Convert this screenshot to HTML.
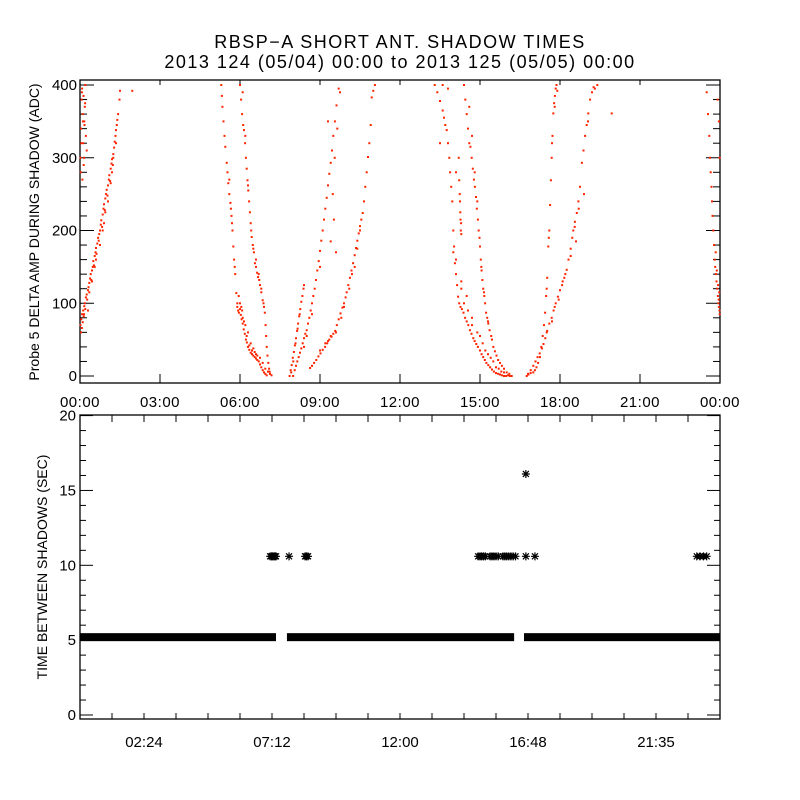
<!DOCTYPE html>
<html><head><meta charset="utf-8">
<style>
html,body{margin:0;padding:0;background:#fff;}
svg{display:block;font-family:"Liberation Sans",sans-serif;}
</style></head>
<body>
<svg id="chart" width="800" height="800" viewBox="0 0 800 800">
  <text x="400" y="48" text-anchor="middle" font-size="18" letter-spacing="1.5">RBSP−A SHORT ANT. SHADOW TIMES</text>
  <text x="400" y="68" text-anchor="middle" font-size="18" letter-spacing="1.5">2013 124 (05/04) 00:00 to 2013 125 (05/05) 00:00</text>
  <g id="topPanel"></g>
  <g id="botPanel"></g>
</svg>
<script>
// ---- Top panel data: [hour of day, ADC] pairs per shadow track ----
const tickHoursTop = [0,3,6,9,12,15,18,21,24];
const tickLabelsTop = ["00:00","03:00","06:00","09:00","12:00","15:00","18:00","21:00","00:00"];
const yTicksTop = [0,100,200,300,400];
const trackRiseEarly = [[0.02,70],[0.04,60],[0.05,78],[0.07,66],[0.08,85],[0.1,74],[0.12,90],[0.14,82],[0.16,96],[0.18,100],[0.2,92],[0.22,108],[0.25,112],[0.27,105],[0.3,118],[0.32,122],[0.35,128],[0.38,134],[0.4,140],[0.42,132],[0.45,145],[0.48,150],[0.5,158],[0.52,152],[0.55,165],[0.58,170],[0.6,176],[0.62,168],[0.65,182],[0.68,190],[0.7,186],[0.72,195],[0.75,200],[0.78,208],[0.8,214],[0.83,205],[0.85,222],[0.88,230],[0.9,236],[0.93,228],[0.95,244],[0.98,250],[1.0,256],[1.03,248],[1.05,262],[1.08,270],[1.1,276],[1.13,268],[1.15,285],[1.18,292],[1.2,298],[1.23,290],[1.25,305],[1.28,314],[1.3,322],[1.33,330],[1.35,338],[1.38,345],[1.4,352],[1.43,360],[1.48,380],[1.5,392],[1.96,392],[0.3,90],[0.6,160],[0.9,210],[1.2,280],[0.45,130],[0.75,180],[1.05,240],[1.25,300],[0.15,85],[0.35,115],[0.55,150],[0.85,200],[0.95,225],[1.15,265],[1.35,320]];
const trackEdgeLeft = [[0.02,300],[0.04,340],[0.06,380],[0.08,395],[0.1,360],[0.12,320],[0.14,290],[0.16,350],[0.18,370],[0.2,400],[0.22,330],[0.25,310],[0.03,280],[0.07,390],[0.11,350],[0.15,300],[0.19,375],[0.05,320],[0.09,270],[0.13,385],[0.17,345]];
const trackFallA = [[5.3,400],[5.32,385],[5.34,370],[5.38,350],[5.42,330],[5.45,315],[5.5,293],[5.53,280],[5.56,265],[5.6,250],[5.64,238],[5.68,220],[5.72,200],[5.75,178],[5.78,160],[5.82,140],[5.86,114],[5.9,100],[5.93,90],[5.96,87],[6.0,92],[6.03,84],[6.06,78],[6.1,72],[6.14,64],[6.18,58],[6.22,50],[6.26,46],[6.3,40],[6.35,36],[6.4,32],[6.45,30],[6.5,28],[6.55,26],[6.6,24],[6.65,22],[6.7,20],[6.75,16],[6.8,12],[6.85,8],[6.9,5],[6.95,3],[7.0,1],[5.95,110],[6.05,95],[6.1,80],[6.2,70],[6.3,60],[6.4,45],[6.5,38],[6.6,30],[5.9,95],[6.0,100],[6.08,90],[6.15,75],[6.25,55],[6.35,42],[6.45,35],[6.55,33],[6.65,28],[6.75,25],[6.85,18],[6.95,10],[7.05,6],[7.12,3],[7.18,1],[5.6,270],[5.66,230],[5.7,210],[5.8,150]];
const trackFallB = [[6.0,400],[6.04,380],[6.08,360],[6.12,345],[6.15,338],[6.19,320],[6.22,300],[6.25,285],[6.28,269],[6.31,255],[6.34,240],[6.37,225],[6.4,210],[6.44,191],[6.48,180],[6.52,170],[6.56,155],[6.6,150],[6.64,142],[6.68,136],[6.72,132],[6.75,125],[6.8,115],[6.85,104],[6.9,95],[6.93,87],[6.96,70],[6.98,55],[7.0,40],[7.03,28],[7.06,18],[7.09,10],[7.11,6],[7.13,3],[6.1,390],[6.2,330],[6.3,262],[6.42,200],[6.5,175],[6.6,160],[6.7,140],[6.8,120],[6.88,100]];
const trackRiseA = [[7.86,0],[7.9,8],[7.94,15],[7.98,25],[8.02,33],[8.06,42],[8.1,52],[8.14,62],[8.18,72],[8.22,82],[8.26,92],[8.3,102],[8.34,110],[8.38,120],[8.4,125],[7.92,5],[8.0,20],[8.08,45],[8.16,65],[8.24,85]];
const trackRiseB = [[7.99,0],[8.05,8],[8.1,14],[8.15,20],[8.2,26],[8.25,32],[8.3,38],[8.35,45],[8.4,52],[8.45,58],[8.5,63],[8.55,72],[8.6,80],[8.65,90],[8.7,100],[8.75,110],[8.8,120],[8.85,132],[8.9,145],[8.95,158],[9.0,172],[9.05,186],[9.1,200],[9.15,215],[9.2,230],[9.25,245],[9.3,262],[9.35,278],[9.4,293],[9.45,310],[9.5,330],[9.56,350],[9.62,372],[9.7,395],[9.48,250],[9.52,215],[9.4,185],[9.6,170],[9.55,300],[9.65,340],[9.3,350],[9.75,390],[8.4,40],[8.5,55],[8.7,85],[9.0,150]];
const trackRiseC = [[8.63,11],[8.7,14],[8.78,18],[8.86,22],[8.94,27],[9.02,31],[9.1,36],[9.19,40],[9.27,45],[9.35,50],[9.43,54],[9.5,58],[9.57,62],[9.63,70],[9.7,78],[9.77,86],[9.84,94],[9.9,100],[9.96,108],[10.0,115],[10.06,125],[10.12,135],[10.18,145],[10.24,155],[10.3,166],[10.35,176],[10.4,186],[10.45,196],[10.5,206],[10.55,215],[10.6,224],[10.65,240],[10.7,260],[10.75,280],[10.8,301],[10.85,320],[10.9,345],[10.94,383],[11.0,392],[11.06,400],[9.2,45],[9.4,55],[9.8,80],[10.1,120],[10.3,150],[10.5,200],[9.0,35],[9.3,48],[9.6,60],[9.9,95],[10.2,140],[10.4,175]];
const trackFallC = [[13.3,400],[13.4,390],[13.5,378],[13.6,365],[13.65,355],[13.7,345],[13.75,338],[13.8,320],[13.85,300],[13.88,280],[13.92,260],[13.96,240],[14.0,200],[14.03,178],[14.06,155],[14.1,140],[14.14,125],[14.18,109],[14.22,100],[14.27,95],[14.32,92],[14.38,87],[14.44,80],[14.5,75],[14.56,70],[14.62,63],[14.68,58],[14.75,52],[14.8,48],[14.86,44],[14.92,40],[15.0,35],[15.06,30],[15.12,26],[15.18,22],[15.24,18],[15.31,15],[15.38,12],[15.45,9],[15.52,6],[15.6,4],[15.68,3],[15.75,2],[15.82,1],[15.9,0],[15.98,0],[16.05,1],[16.12,0],[16.19,0],[14.3,130],[14.4,100],[14.55,90],[14.7,70],[14.9,60],[15.1,45],[15.3,30],[15.5,20],[15.7,10],[15.9,5],[14.0,170],[14.1,160],[14.3,120],[14.5,110],[14.7,80],[15.0,55],[15.2,35],[15.4,25],[15.6,12],[15.8,6]];
const trackFallD = [[14.4,400],[14.45,380],[14.5,360],[14.55,340],[14.6,320],[14.64,315],[14.69,300],[14.73,285],[14.77,270],[14.81,260],[14.85,246],[14.88,230],[14.92,215],[14.95,200],[14.98,190],[15.0,178],[15.03,160],[15.06,145],[15.09,132],[15.12,120],[15.16,110],[15.19,100],[15.23,87],[15.27,80],[15.31,72],[15.36,63],[15.42,55],[15.5,40],[15.56,34],[15.62,28],[15.68,22],[15.75,18],[15.82,14],[15.9,10],[16.0,5],[16.1,3],[14.6,370],[14.7,330],[14.8,280],[14.9,240],[15.05,150],[15.15,115],[15.3,75],[15.45,50]];
const trackFallE = [[14.22,269],[14.24,250],[14.25,240],[14.26,225],[14.27,215],[14.28,200],[14.29,210],[14.3,195],[13.5,320],[13.6,400],[13.8,395],[14.2,300],[14.1,280]];
const trackRiseD = [[16.75,0],[16.82,2],[16.9,4],[17.0,5],[17.06,8],[17.12,12],[17.18,18],[17.25,26],[17.3,40],[17.35,55],[17.4,70],[17.44,87],[17.48,110],[17.52,135],[17.56,178],[17.6,200],[17.63,235],[17.66,269],[17.69,300],[17.72,330],[17.75,361],[17.78,375],[17.81,385],[17.84,395],[17.87,400],[17.9,392],[17.5,120],[17.58,190],[17.7,320],[17.8,370]];
const trackRiseE = [[16.8,3],[16.9,8],[17.0,14],[17.08,20],[17.16,26],[17.24,31],[17.32,38],[17.38,44],[17.45,52],[17.52,62],[17.6,72],[17.69,80],[17.76,90],[17.84,100],[17.92,109],[18.0,118],[18.08,125],[18.16,135],[18.25,146],[18.32,160],[18.4,175],[18.46,190],[18.5,200],[18.56,212],[18.63,224],[18.69,240],[18.75,260],[18.82,293],[18.88,310],[18.94,330],[19.0,345],[19.06,361],[19.13,380],[19.2,390],[19.26,397],[19.31,395],[19.4,400],[17.5,60],[17.8,95],[18.1,130],[18.4,165],[18.6,185],[18.9,250],[19.94,361],[17.7,75],[17.95,105],[18.2,140],[18.55,205],[18.7,230],[19.05,350]];
const trackEdgeRight = [[23.5,390],[23.55,360],[23.6,330],[23.62,300],[23.65,280],[23.68,260],[23.7,240],[23.72,220],[23.75,200],[23.78,180],[23.8,160],[23.82,150],[23.85,140],[23.87,130],[23.9,120],[23.92,110],[23.94,100],[23.96,95],[23.98,90],[23.99,85],[23.95,105],[23.97,115],[23.93,125],[23.88,145],[23.84,170],[23.99,300],[23.96,350],[23.91,380]];

// ---- Bottom panel data (hour of day, seconds) ----
const tickHoursBot = [2.4,7.2,12.0,16.8,21.6];
const tickLabelsBot = ["02:24","07:12","12:00","16:48","21:35"];
const yTicksBot = [0,5,10,15,20];
const bandStartHours = [0.0, 7.76, 16.65];
const bandEndHours = [7.35, 16.28, 24.0];
const bandValue = 5.2;
const gapHours = [7.13,7.18,7.22,7.27,7.31,7.35,7.84,8.44,8.49,8.55,14.93,15.0,15.06,15.13,15.2,15.38,15.45,15.52,15.6,15.68,15.86,15.93,16.0,16.08,16.16,16.24,16.33,16.72,17.06,23.13,23.25,23.38,23.5,16.72];
const gapValues = [10.6,10.6,10.6,10.6,10.6,10.6,10.6,10.6,10.6,10.6,10.6,10.6,10.6,10.6,10.6,10.6,10.6,10.6,10.6,10.6,10.6,10.6,10.6,10.6,10.6,10.6,10.6,10.6,10.6,10.6,10.6,10.6,10.6,16.1];

const NS='http://www.w3.org/2000/svg';
function mk(tag, attrs, parent){const e=document.createElementNS(NS,tag);for(const k in attrs)e.setAttribute(k,attrs[k]);parent.appendChild(e);return e;}

const X0=80, X1=720;
function xH(h){return X0+(X1-X0)*h/24;}
const T0=80, T1=383;
function yA(v){return 376-v*0.7275;}
const B0=415, B1=719;
function yS(v){return 715-v*14.97;}

const topG=document.getElementById('topPanel');
const botG=document.getElementById('botPanel');

// ---- top panel ----
const tf=mk('rect',{x:X0,y:T0,width:X1-X0,height:T1-T0,fill:'none',stroke:'#000','stroke-width':1.3},topG);


for(let i=0;i<tickHoursTop.length;i++){
  const x=xH(tickHoursTop[i]);
  const t1=mk('line',{x1:x,y1:T1,x2:x,y2:T1-9,stroke:'#000'},topG);
  
  
  const t2=mk('line',{x1:x,y1:T0,x2:x,y2:T0+5,stroke:'#000'},topG);
  
  
  const lb=mk('text',{x:x,y:T1+24,'text-anchor':'middle','font-size':15,'letter-spacing':0.5},topG);
  lb.textContent=tickLabelsTop[i];
  
  
}
for(let v=0;v<=400;v+=20){
  const y=yA(v); const major=(v%100===0);
  const l1=mk('line',{x1:X0,y1:y,x2:X0+(major?14:7),y2:y,stroke:'#000'},topG);
  
  
  const l2=mk('line',{x1:X1,y1:y,x2:X1-(major?14:7),y2:y,stroke:'#000'},topG);
  
  
}
yTicksTop.forEach(v=>{
  const lb=mk('text',{x:X0-3,y:yA(v)+5,'text-anchor':'end','font-size':15},topG);
  lb.textContent=String(v);
  
  
});
const yt=mk('text',{x:0,y:0,'text-anchor':'middle','font-size':14,transform:'translate(39,232) rotate(-90)'},topG);
yt.textContent='Probe 5 DELTA AMP DURING SHADOW (ADC)';


const tracks=[trackRiseEarly,trackEdgeLeft,trackFallA,trackFallB,trackRiseA,trackRiseB,trackRiseC,trackFallC,trackFallD,trackFallE,trackRiseD,trackRiseE,trackEdgeRight];
tracks.forEach(tr=>tr.forEach(pt=>{
  const p=mk('rect',{x:(xH(pt[0])-1).toFixed(1),y:(yA(pt[1])-1).toFixed(1),width:2,height:2,fill:'#ff2400'},topG);
  
  
}));

// ---- bottom panel ----
const bf=mk('rect',{x:X0,y:B0,width:X1-X0,height:B1-B0,fill:'none',stroke:'#000','stroke-width':1.3},botG);


for(let k=1;k<20;k++){
  const x=xH(k*1.2);
  const a=mk('line',{x1:x,y1:B1,x2:x,y2:B1-6,stroke:'#000'},botG);
  
  
  const b=mk('line',{x1:x,y1:B0,x2:x,y2:B0+7,stroke:'#000'},botG);
  
  
}
for(let i=0;i<tickHoursBot.length;i++){
  const lb=mk('text',{x:xH(tickHoursBot[i]),y:B1+28,'text-anchor':'middle','font-size':15},botG);
  lb.textContent=tickLabelsBot[i];
  
  
}
for(let v=0;v<=20;v++){
  const y=yS(v); const major=(v%5===0);
  const a=mk('line',{x1:X0,y1:y,x2:X0+(major?13:6),y2:y,stroke:'#000'},botG);
  
  
  const b=mk('line',{x1:X1,y1:y,x2:X1-(major?13:6),y2:y,stroke:'#000'},botG);
  
  
}
yTicksBot.forEach(v=>{
  const lb=mk('text',{x:X0-4,y:yS(v)+5,'text-anchor':'end','font-size':15},botG);
  lb.textContent=String(v);
  
  
});
const yt2=mk('text',{x:0,y:0,'text-anchor':'middle','font-size':14,transform:'translate(47,567) rotate(-90)'},botG);
yt2.textContent='TIME BETWEEN SHADOWS (SEC)';


for(let i=0;i<bandStartHours.length;i++){
  const xa=xH(bandStartHours[i]), xb=xH(bandEndHours[i]);
  const r=mk('rect',{x:xa,y:yS(bandValue)-4,width:xb-xa,height:8,fill:'#000'},botG);
  
  
}
function star(cx,cy){
  return mk('path',{d:`M${cx-4} ${cy}H${cx+4}M${cx} ${cy-4}V${cy+4}M${cx-3} ${cy-3}L${cx+3} ${cy+3}M${cx-3} ${cy+3}L${cx+3} ${cy-3}`,stroke:'#000','stroke-width':1.2,fill:'none'},botG);
}
for(let i=0;i<gapHours.length;i++){
  const s=star(xH(gapHours[i]),yS(gapValues[i]));
  
  
}
</script>
</body></html>
